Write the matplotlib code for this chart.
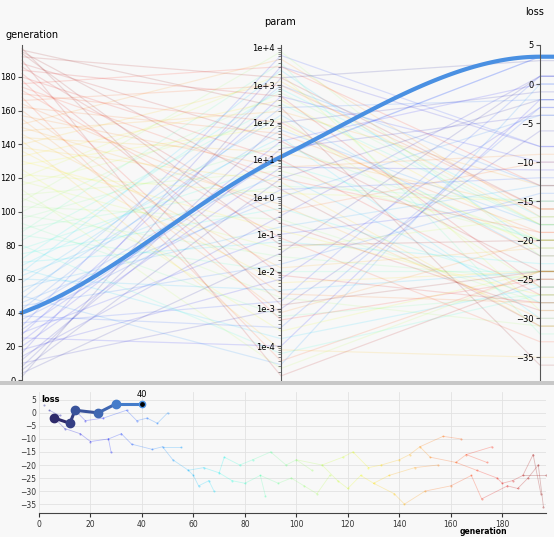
import numpy as np
import matplotlib
matplotlib.use("Agg")
import matplotlib.pyplot as plt
from matplotlib.ticker import FuncFormatter, LogLocator, MultipleLocator

# individuals: generation, log10(param), loss, parent index
gen = [2, 4, 6, 8, 10, 12, 14, 16, 18, 20, 23, 25, 27, 28, 30, 32, 34, 36, 38, 40,
       42, 44, 46, 48, 50, 52, 55, 58, 60, 62, 64, 66, 68, 70, 72, 75, 78, 80, 83, 86,
       88, 90, 93, 96, 98, 100, 103, 106, 108, 110, 113, 116, 118, 120, 122, 125, 128, 130, 133, 136,
       138, 140, 142, 144, 146, 148, 150, 152, 155, 157, 160, 162, 164, 166, 168, 170, 172, 174, 176, 178,
       180, 182, 184, 186, 188, 190, 192, 194, 195, 196, 197]
param_exp = [3.2, -1.5, 0.5, 2.0, -3.0, 1.3, -0.5, 3.5, -2.2, 0.8, 1.5, -4.0, 2.7, -1.0, 1.1, 3.8, -2.8, 0.2, -3.5, 1.08,
             2.4, -1.8, 0.0, 3.0, -4.5, 1.8, -0.8, 2.2, -2.5, 0.6, 3.4, -3.8, 1.6, -1.2, 2.9, -0.3, 0.9, -4.2, 2.5, -2.0,
             3.6, 0.3, -3.2, 1.4, -1.6, 2.8, -0.6, 3.9, -2.7, 0.7, -4.6, 2.1, -1.4, 3.3, 0.1, -3.6, 1.9, -0.9, 2.6, -2.3,
             0.4, 3.1, -4.1, 1.2, -1.9, 2.3, -0.2, 3.7, -3.1, 0.8, -2.6, 1.7, -0.4, 3.0, -4.4, 2.0, -1.1, 0.5, 3.5, -3.3,
             1.0, -2.1, 2.7, -0.7, 1.5, -4.8, 3.2, -1.3, 0.2, 2.4, -2.9]
loss = [3, 1, -2, -1, -6, -4, 1, -8, -3, -11, 0, -2, -10, -15, 3.5, -8, 1, -12, -3, 3.5,
        -2, -14, -4, -13, 0, -18, -13, -22, -24, -28, -21, -26, -30, -23, -17, -26, -20, -27, -18, -24,
        -32, -15, -27, -20, -25, -18, -28, -22, -31, -20, -24, -26, -17, -29, -15, -24, -21, -27, -20, -24,
        -31, -18, -35, -16, -21, -13, -30, -17, -20, -9, -28, -19, -10, -16, -24, -22, -33, -19, -13, -25,
        -27, -28, -26, -29, -24, -25, -16, -20, -31, -36, -24]
parent = [-1, -1, -1, 1, 2, 2, 5, 4, 6, 7, 6, 8, 9, 12, 10, 12, 11, 15, 16, 14,
          18, 17, 20, 21, 22, 23, 23, 25, 27, 28, 27, 29, 31, 30, 33, 33, 34, 35, 36, 37,
          39, 38, 39, 41, 42, 43, 44, 45, 46, 45, 48, 49, 49, 51, 52, 53, 54, 55, 56, 57,
          57, 58, 60, 61, 59, 63, 62, 65, 64, 65, 66, 67, 69, 71, 70, 71, 74, 73, 73, 75,
          79, 76, 80, 81, 82, 83, 84, 85, 86, 87, 84]

# highlighted lineage
hl_gen = [6, 12, 14, 23, 30, 40]
hl_loss = [-2, -4, 1, 0, 3.5, 3.5]
hl_param = 12.0

GEN_LIM = (0, 199)
PEXP_LIM = (-4.91, 4.08)
LOSS_LIM = (-37.9, 5.0)

bg = "#f8f8f8"
fig = plt.figure(figsize=(5.54, 5.37), dpi=100, facecolor=bg)
cmap = plt.get_cmap("jet")


def norm(v, lim):
    return (np.asarray(v, float) - lim[0]) / (lim[1] - lim[0])


def curve(y0, y1, y2, n=60):
    m1 = (y2 - y0) / 2.0
    m0 = (y1 - y0) * 0.6
    m2 = 0.0
    xs, ys = [], []
    for k, (a, b, ma, mb) in enumerate([(y0, y1, m0, m1), (y1, y2, m1, m2)]):
        t = np.linspace(0, 1, n)
        h00 = 2 * t**3 - 3 * t**2 + 1
        h10 = t**3 - 2 * t**2 + t
        h01 = -2 * t**3 + 3 * t**2
        h11 = t**3 - t**2
        xs.append(k + t)
        ys.append(h00 * a + h10 * ma + h01 * b + h11 * mb)
    xs.append([2.0, 2.06])
    ys.append([y2, y2])
    return np.concatenate(xs), np.concatenate(ys)


x0, x2 = 22 / 554, 540 / 554
top_b, top_h = 1 - 380 / 537, (380 - 45) / 537
span = x2 - x0
main = fig.add_axes([x0, top_b, span, top_h])
main.set_xlim(0, 2)
main.set_ylim(0, 1)
main.axis("off")

gn = norm(gen, GEN_LIM)
pn = norm(param_exp, PEXP_LIM)
ln = norm(loss, LOSS_LIM)
for i in range(len(gen)):
    main.plot([0, 1, 2, 2.06], [gn[i], pn[i], ln[i], ln[i]], color=cmap(gen[i] / 199),
              alpha=0.13, lw=0.9, clip_on=False)
xs, ys = curve(norm(40, GEN_LIM), norm(np.log10(hl_param), PEXP_LIM), norm(3.5, LOSS_LIM))
main.plot(xs, ys, color="#4a90e2", lw=3, clip_on=False, zorder=5)

# vertical axes
fmt_p = FuncFormatter(lambda v, p: f"1e{int(round(np.log10(v))):+d}")
for xf, lim, kind in [(x0, GEN_LIM, "gen"), (x0 + span / 2, (10**PEXP_LIM[0], 10**PEXP_LIM[1]), "param"),
                      (x2, LOSS_LIM, "loss")]:
    a = fig.add_axes([xf, top_b, 0.0001, top_h])
    a.patch.set_alpha(0)
    for s in ["top", "right", "bottom"]:
        a.spines[s].set_visible(False)
    a.spines["left"].set_color("#555555")
    a.set_xticks([])
    a.tick_params(axis="y", labelsize=6, length=3, color="#555555", pad=1.5)
    if kind == "param":
        a.set_yscale("log")
        a.set_ylim(*lim)
        a.yaxis.set_major_locator(LogLocator(base=10, numticks=20))
        a.yaxis.set_major_formatter(fmt_p)
        a.yaxis.set_minor_locator(LogLocator(base=10, subs=np.arange(2, 10), numticks=20))
        a.tick_params(axis="y", which="minor", length=2, color="#777777")
    else:
        a.set_ylim(*lim)
        a.yaxis.set_major_locator(MultipleLocator(20 if kind == "gen" else 5))

fig.text(6 / 554, 1 - 35 / 537, "generation", fontsize=7, ha="left", va="center")
fig.text(280 / 554, 1 - 22 / 537, "param", fontsize=7, ha="center", va="center")
fig.text(535 / 554, 1 - 12 / 537, "loss", fontsize=7, ha="center", va="center")

# separator band
fig.add_artist(plt.Rectangle((0, 1 - 385 / 537), 1, 4 / 537, transform=fig.transFigure,
                             color="#c8c8c8", lw=0))

# bottom panel
bx = fig.add_axes([39 / 554, 1 - 513 / 537, 507 / 554, 121 / 537])
bx.set_facecolor(bg)
bx.set_xlim(0, 197)
bx.set_ylim(-38.4, 8)
bx.xaxis.set_major_locator(MultipleLocator(20))
bx.set_yticks(np.arange(-35, 6, 5))
bx.grid(color="#e2e2e2", lw=0.6)
for s in ["top", "right"]:
    bx.spines[s].set_visible(False)
bx.spines["left"].set_visible(False)
bx.spines["bottom"].set_color("#444444")
bx.tick_params(labelsize=5.5, length=0, colors="#333333", pad=2)
bx.tick_params(axis="x", length=3)

for i in range(len(gen)):
    p = parent[i]
    c = cmap(gen[i] / 199)
    if p >= 0:
        bx.plot([gen[p], gen[i]], [loss[p], loss[i]], color=c, alpha=0.25, lw=0.6)
    bx.plot(gen[i], loss[i], "o", ms=1.5, color=c, alpha=0.35, mew=0)

hl_cols = plt.matplotlib.colors.LinearSegmentedColormap.from_list("h", ["#2e2a6b", "#4a90e2"])
nseg = len(hl_gen) - 1
for k in range(nseg):
    bx.plot(hl_gen[k:k + 2], hl_loss[k:k + 2], color=hl_cols(k / nseg), lw=2.2, zorder=5)
for k in range(nseg):
    bx.plot(hl_gen[k], hl_loss[k], "o", ms=6, color=hl_cols(k / nseg), zorder=6)
bx.plot(hl_gen[-1], hl_loss[-1], "o", ms=4.5, color="black", mec="#4a90e2", mew=1, zorder=7)
bx.annotate(str(hl_gen[-1]), (hl_gen[-1], hl_loss[-1]), xytext=(0, 5), textcoords="offset points",
            ha="center", fontsize=6)

bx.text(1, 5.3, "loss", fontsize=6, fontweight="bold", ha="left", va="center")
fig.text(483 / 554, 1 - 532 / 537, "generation", fontsize=5.5, fontweight="bold", ha="center", va="center")

fig.savefig("out.png", dpi=100, facecolor=bg)
